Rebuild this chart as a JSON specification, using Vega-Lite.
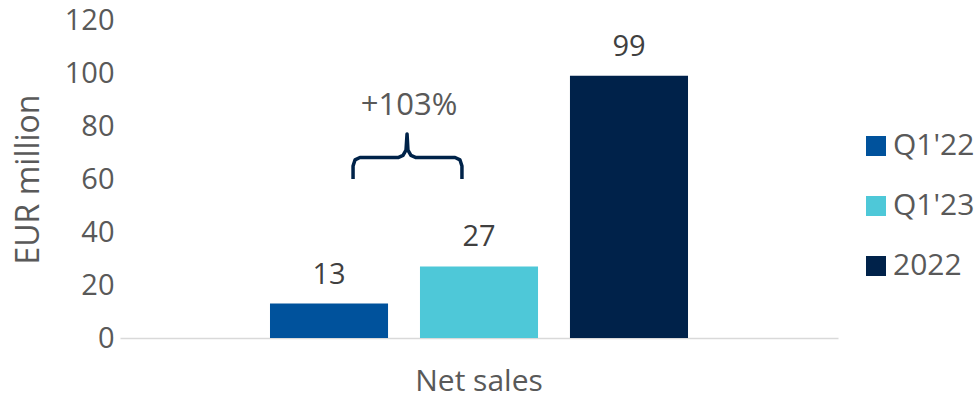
{
  "$schema": "https://vega.github.io/schema/vega-lite/v6.json",
  "width": 718,
  "height": 318,
  "autosize": "none",
  "padding": {"left": 120, "top": 20, "right": 138, "bottom": 62},
  "background": "white",
  "config": {
    "view": {"stroke": null},
    "font": "Open Sans",
    "text": {"font": "Open Sans"}
  },
  "datasets": {
    "bars": [
      {"category": "Net sales", "series": "Q1'22", "value": 13},
      {"category": "Net sales", "series": "Q1'23", "value": 27},
      {"category": "Net sales", "series": "2022", "value": 99}
    ],
    "brace": [
      {"i": 1, "x": 1.558, "y": 60.0},
      {"i": 2, "x": 1.558, "y": 64.9},
      {"i": 3, "x": 1.571, "y": 67.2},
      {"i": 4, "x": 1.604, "y": 68.1},
      {"i": 5, "x": 1.859, "y": 68.1},
      {"i": 6, "x": 1.892, "y": 68.9},
      {"i": 7, "x": 1.912, "y": 70.9},
      {"i": 8, "x": 1.919, "y": 77.0},
      {"i": 9, "x": 1.925, "y": 70.9},
      {"i": 10, "x": 1.945, "y": 68.9},
      {"i": 11, "x": 1.979, "y": 68.1},
      {"i": 12, "x": 2.240, "y": 68.1},
      {"i": 13, "x": 2.273, "y": 67.2},
      {"i": 14, "x": 2.286, "y": 64.9},
      {"i": 15, "x": 2.286, "y": 60.0}
    ],
    "note": [
      {"x": 1.932, "y": 87.5, "label": "+103%"}
    ]
  },
  "resolve": {"scale": {"x": "independent"}},
  "layer": [
    {
      "data": {"name": "bars"},
      "mark": {"type": "bar"},
      "encoding": {
        "x": {
          "field": "category", "type": "nominal",
          "scale": {"paddingInner": 0, "paddingOuter": 0},
          "axis": {
            "title": null, "domain": true, "domainColor": "#d9d9d9", "domainWidth": 1.5,
            "ticks": false, "labelFontSize": 30, "labelColor": "#595959",
            "labelPadding": 28, "labelAngle": 0
          }
        },
        "xOffset": {
          "field": "series", "type": "nominal",
          "sort": ["Q1'22", "Q1'23", "2022"],
          "scale": {"paddingInner": 0.213, "paddingOuter": 1.0}
        },
        "y": {
          "field": "value", "type": "quantitative",
          "scale": {"domain": [0, 120]},
          "axis": {
            "title": "EUR million", "titleFontSize": 32, "titleColor": "#595959",
            "titleFontWeight": "normal", "titlePadding": 19,
            "values": [0, 20, 40, 60, 80, 100, 120],
            "grid": false, "domain": false, "ticks": false,
            "labelFontSize": 29, "labelColor": "#595959", "labelPadding": 6
          }
        },
        "color": {
          "field": "series", "type": "nominal",
          "sort": ["Q1'22", "Q1'23", "2022"],
          "scale": {"domain": ["Q1'22", "Q1'23", "2022"], "range": ["#00529C", "#4EC8D8", "#00224A"]},
          "legend": {
            "title": null, "orient": "none", "legendX": 741, "legendY": 111,
            "symbolType": "square", "symbolSize": 400, "symbolStrokeWidth": 0,
            "labelFontSize": 30, "labelColor": "#595959", "rowPadding": 30,
            "labelOffset": 2
          }
        }
      }
    },
    {
      "data": {"name": "bars"},
      "mark": {"type": "text", "baseline": "alphabetic", "dy": -20, "fontSize": 29, "color": "#404040"},
      "encoding": {
        "x": {"field": "category", "type": "nominal", "scale": {"paddingInner": 0, "paddingOuter": 0}, "axis": null},
        "xOffset": {
          "field": "series", "type": "nominal",
          "sort": ["Q1'22", "Q1'23", "2022"],
          "scale": {"paddingInner": 0.213, "paddingOuter": 1.0}
        },
        "y": {"field": "value", "type": "quantitative"},
        "text": {"field": "value", "type": "quantitative"}
      }
    },
    {
      "data": {"name": "brace"},
      "mark": {"type": "line", "color": "#002349", "strokeWidth": 3.5, "strokeJoin": "round", "strokeCap": "butt"},
      "encoding": {
        "x": {"field": "x", "type": "quantitative", "scale": {"domain": [0, 4.8], "nice": false, "zero": false}, "axis": null},
        "y": {"field": "y", "type": "quantitative"},
        "order": {"field": "i", "type": "quantitative"}
      }
    },
    {
      "data": {"name": "note"},
      "mark": {"type": "text", "baseline": "middle", "fontSize": 31, "color": "#595959"},
      "encoding": {
        "x": {"field": "x", "type": "quantitative", "scale": {"domain": [0, 4.8], "nice": false, "zero": false}, "axis": null},
        "y": {"field": "y", "type": "quantitative"},
        "text": {"field": "label", "type": "nominal"}
      }
    }
  ]
}
